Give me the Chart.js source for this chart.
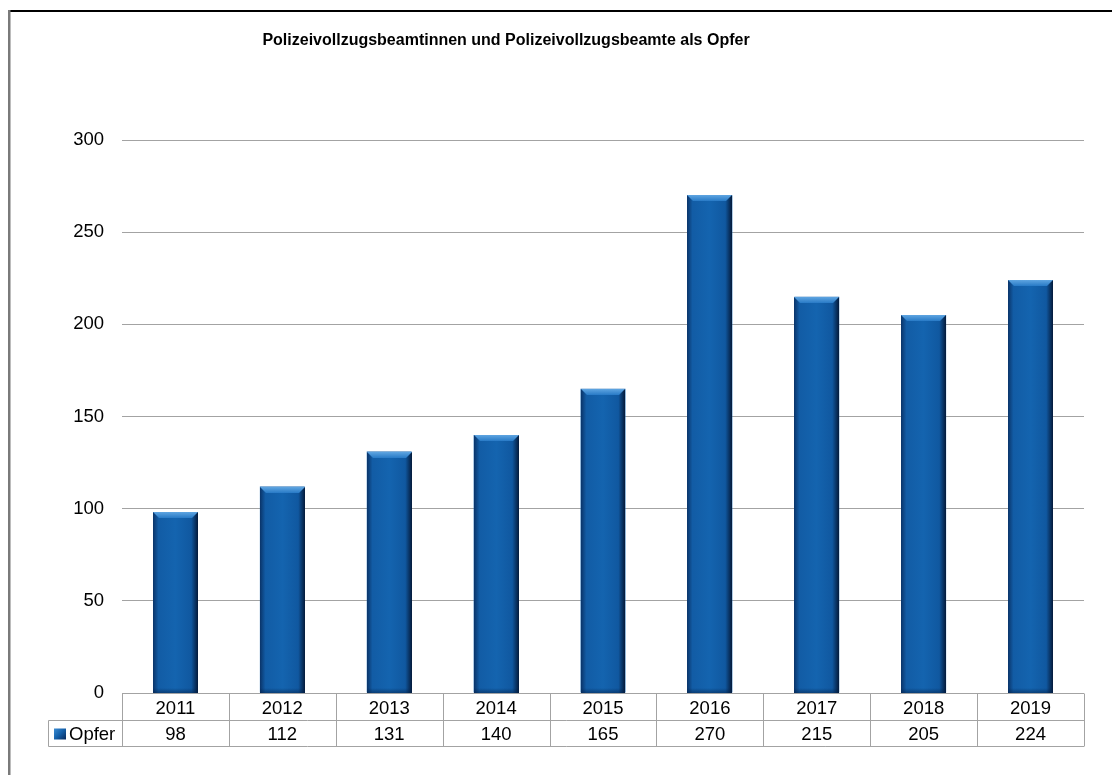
<!DOCTYPE html>
<html><head><meta charset="utf-8">
<script src="https://cdn.jsdelivr.net/npm/chart.js@4.4.0/dist/chart.umd.min.js"></script>
<style>html,body{margin:0;padding:0;background:#fff;} #wrap{width:1112px;height:775px;position:relative;}</style>
</head><body><div id="wrap"><canvas id="c" width="1112" height="775"></canvas></div>
<script>
const chartTitle = 'Polizeivollzugsbeamtinnen und Polizeivollzugsbeamte als Opfer';
const seriesName = 'Opfer';
const categories = ['2011','2012','2013','2014','2015','2016','2017','2018','2019'];
const values = [98,112,131,140,165,270,215,205,224];
const yTicks = [0,50,100,150,200,250,300];

const FONT = "'Liberation Sans', Arial, sans-serif";
const FS = 18.5;
const GRID = '#a3a3a3';

function barFill(ctx, L, R, T, B) {
  const g = ctx.createLinearGradient(L, 0, R, 0);
  g.addColorStop(0, 'rgb(10,52,105)');
  g.addColorStop(0.12, 'rgb(18,92,165)');
  g.addColorStop(0.5, 'rgb(20,100,175)');
  g.addColorStop(0.85, 'rgb(16,88,160)');
  g.addColorStop(1, 'rgb(4,26,58)');
  ctx.fillStyle = g;
  ctx.fillRect(L, T, R - L, B - T);
  const bv = Math.min(6, (B - T) / 2);
  const tg = ctx.createLinearGradient(0, T, 0, T + bv);
  tg.addColorStop(0, 'rgb(95,165,225)');
  tg.addColorStop(1, 'rgb(40,122,198)');
  ctx.fillStyle = tg;
  ctx.beginPath();
  ctx.moveTo(L, T); ctx.lineTo(R, T); ctx.lineTo(R - bv, T + bv); ctx.lineTo(L + bv, T + bv); ctx.closePath();
  ctx.fill();
  const bg = ctx.createLinearGradient(0, B - 5, 0, B);
  bg.addColorStop(0, 'rgba(0,30,70,0)');
  bg.addColorStop(1, 'rgba(0,30,70,0.5)');
  ctx.fillStyle = bg;
  ctx.fillRect(L, B - 5, R - L, 5);
}

const decor = {
  id: 'decor',
  afterDatasetsDraw(chart) {
    const ctx = chart.ctx;
    const meta = chart.getDatasetMeta(0);
    ctx.save();
    meta.data.forEach(bar => {
      const p = bar.getProps(['x', 'y', 'base', 'width'], true);
      barFill(ctx, Math.round(p.x - p.width / 2), Math.round(p.x + p.width / 2), Math.round(p.y), Math.round(p.base));
    });
    ctx.restore();
  },
  afterDraw(chart) {
    const ctx = chart.ctx;
    const ca = chart.chartArea;
    const xs = chart.scales.x;
    ctx.save();
    ctx.strokeStyle = '#000'; ctx.lineWidth = 2;
    ctx.beginPath(); ctx.moveTo(8, 11); ctx.lineTo(1112, 11); ctx.stroke();
    ctx.strokeStyle = '#7a7a7a'; ctx.lineWidth = 2.5;
    ctx.beginPath(); ctx.moveTo(9.25, 10); ctx.lineTo(9.25, 775); ctx.stroke();
    ctx.fillStyle = '#000';
    ctx.font = 'bold 16px ' + FONT;
    ctx.textAlign = 'center'; ctx.textBaseline = 'middle';
    ctx.fillText(chartTitle, 506, 41);
    const n = categories.length;
    const cw = (ca.right - ca.left) / n;
    const y0 = Math.round(ca.bottom) + 0.5, y1 = y0 + 27, y2 = y1 + 26;
    const tl = 48.5;
    ctx.strokeStyle = GRID; ctx.lineWidth = 1;
    ctx.beginPath();
    ctx.moveTo(ca.left, y0); ctx.lineTo(ca.right, y0);
    ctx.moveTo(tl, y1); ctx.lineTo(ca.right, y1);
    ctx.moveTo(tl, y2); ctx.lineTo(ca.right, y2);
    ctx.moveTo(tl, y1); ctx.lineTo(tl, y2);
    for (let i = 0; i <= n; i++) {
      const bx = Math.round(xs.getPixelForValue(i) - cw / 2) + 0.5;
      ctx.moveTo(bx, y0); ctx.lineTo(bx, y2);
    }
    ctx.stroke();
    ctx.font = FS + 'px ' + FONT;
    ctx.fillStyle = '#000';
    ctx.textAlign = 'center'; ctx.textBaseline = 'middle';
    values.forEach((v, i) => {
      ctx.fillText(String(v), xs.getPixelForValue(i), (y1 + y2) / 2 + 1);
    });
    const kx = 54, ky = y1 + 8, kw = 12, kh = 11;
    const kg = ctx.createLinearGradient(kx, ky, kx + kw, ky + kh);
    kg.addColorStop(0, 'rgb(60,140,210)');
    kg.addColorStop(0.5, 'rgb(20,96,170)');
    kg.addColorStop(1, 'rgb(8,40,90)');
    ctx.fillStyle = kg;
    ctx.fillRect(kx, ky, kw, kh);
    ctx.fillStyle = '#000';
    ctx.textAlign = 'left';
    ctx.fillText(seriesName, 69, (y1 + y2) / 2 + 1);
    ctx.restore();
  }
};

new Chart(document.getElementById('c'), {
  type: 'bar',
  data: {
    labels: categories,
    datasets: [{
      label: seriesName,
      data: values,
      backgroundColor: 'rgb(20,100,175)',
      borderWidth: 0,
      barPercentage: 0.42,
      categoryPercentage: 1.0
    }]
  },
  options: {
    responsive: false,
    animation: false,
    devicePixelRatio: 1,
    layout: { padding: { top: 140, right: 28, bottom: 0, left: 0 } },
    plugins: { legend: { display: false }, title: { display: false }, tooltip: { enabled: false } },
    scales: {
      y: {
        min: 0, max: 300,
        afterBuildTicks: s => { s.ticks = yTicks.map(v => ({ value: v })); },
        afterFit: s => { s.width = 122; },
        ticks: { font: { family: FONT, size: FS }, color: '#000', padding: 18 },
        grid: { color: GRID, drawTicks: false, lineWidth: 1 },
        border: { display: false }
      },
      x: {
        afterFit: s => { s.height = 82; },
        ticks: { font: { family: FONT, size: FS }, color: '#000', padding: 5, maxRotation: 0 },
        grid: { display: false, drawTicks: false },
        border: { display: false }
      }
    }
  },
  plugins: [decor]
});
</script></body></html>
